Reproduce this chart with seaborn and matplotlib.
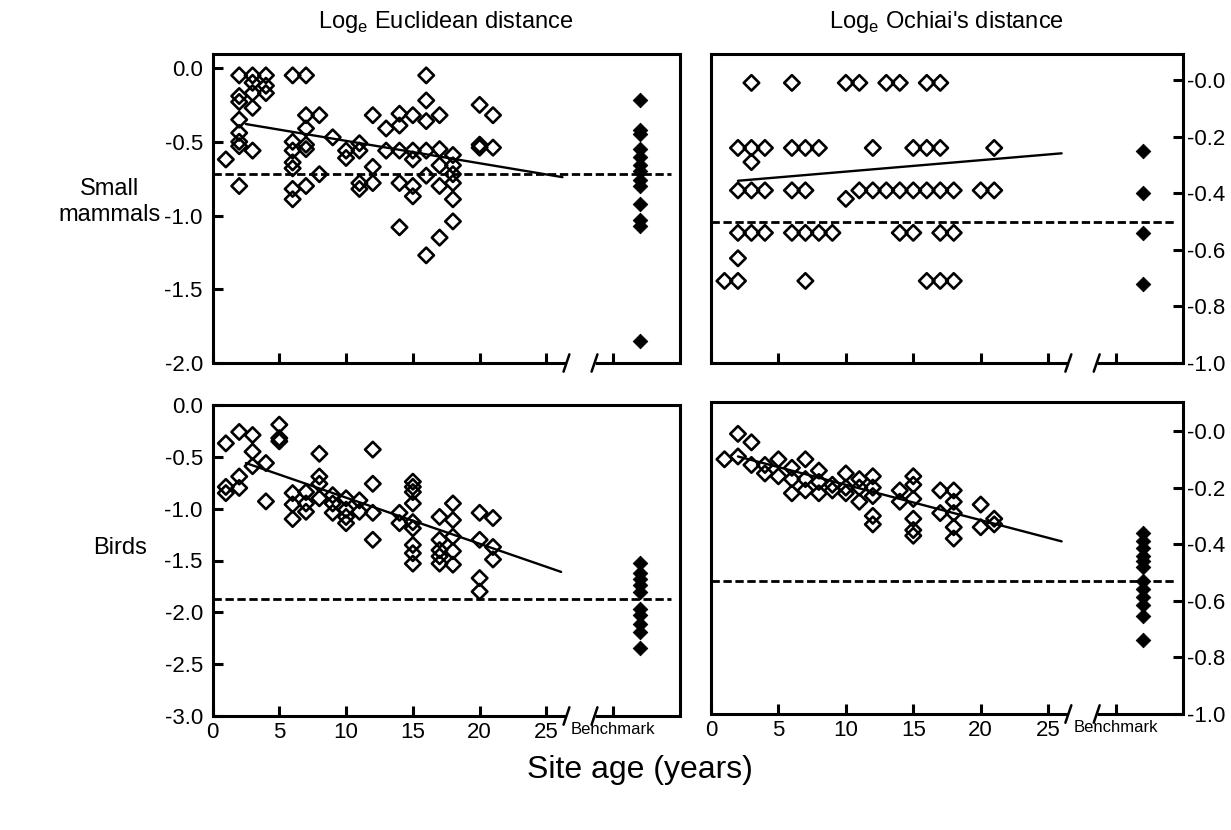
import matplotlib
matplotlib.use("Agg")
import matplotlib.pyplot as plt
import pandas as pd
import seaborn as sns

sns.set_theme(style="ticks")
plt.rcParams["font.family"] = ["Liberation Sans", "DejaVu Sans"]
plt.rcParams["axes.unicode_minus"] = False
for key in ("text.color", "axes.labelcolor", "xtick.color", "ytick.color",
            "axes.edgecolor"):
    plt.rcParams[key] = "black"

# ---------------- data ----------------
# Small mammals, log_e Euclidean distance
mam_euc_age = [1,
               2, 2, 2, 2, 2, 2, 2, 2,
               3, 3, 3, 3, 3,
               4, 4, 4,
               6, 6, 6, 6, 6, 6, 6,
               7, 7, 7, 7, 7, 7,
               8, 8, 9, 10, 10,
               11, 11, 11, 11,
               12, 12, 12, 13, 13,
               14, 14, 14, 14, 14,
               15, 15, 15, 15, 15,
               16, 16, 16, 16, 16, 16,
               17, 17, 17, 17, 17,
               18, 18, 18, 18, 18, 18,
               20, 20, 20, 21, 21]
mam_euc_val = [-0.62,
               -0.05, -0.19, -0.23, -0.35, -0.44, -0.50, -0.53, -0.80,
               -0.05, -0.10, -0.17, -0.27, -0.56,
               -0.05, -0.12, -0.17,
               -0.05, -0.50, -0.56, -0.64, -0.68, -0.82, -0.89,
               -0.05, -0.32, -0.41, -0.52, -0.55, -0.80,
               -0.32, -0.72, -0.47, -0.56, -0.61,
               -0.51, -0.56, -0.78, -0.82,
               -0.32, -0.67, -0.78, -0.41, -0.56,
               -0.31, -0.39, -0.56, -0.78, -1.08,
               -0.32, -0.56, -0.62, -0.80, -0.87,
               -0.05, -0.22, -0.36, -0.56, -0.73, -1.27,
               -0.32, -0.55, -0.66, -0.80, -1.15,
               -0.59, -0.66, -0.72, -0.78, -0.89, -1.04,
               -0.25, -0.52, -0.54, -0.32, -0.54]
mam_euc_bench = [-0.22, -0.42, -0.45, -0.55, -0.60, -0.66, -0.70,
                 -0.76, -0.80, -0.92, -1.03, -1.07, -1.85]
mam_euc_bench_mean = -0.72
mam_euc_fit_age = [2.5, 26.2]
mam_euc_fit_val = [-0.38, -0.74]

# Small mammals, log_e Ochiai's distance
mam_och_age = [3, 6, 10, 11, 13, 14, 16, 17,
               2, 3, 4, 6, 7, 8, 12, 15, 16, 17, 21,
               3,
               2, 3, 4, 6, 7, 11, 12, 13, 14, 15, 16, 17, 18, 20, 21,
               10,
               2, 3, 4, 6, 7, 8, 9, 14, 15, 17, 18,
               2,
               1, 2, 7, 16, 17, 18]
mam_och_val = [-0.01] * 8 + [-0.24] * 11 + [-0.29] + [-0.39] * 15 + [-0.42] \
              + [-0.54] * 11 + [-0.63] + [-0.71] * 6
mam_och_bench = [-0.25, -0.40, -0.54, -0.72]
mam_och_bench_mean = -0.50
mam_och_fit_age = [2.0, 26.0]
mam_och_fit_val = [-0.356, -0.259]

# Birds, log_e Euclidean distance
bird_euc_age = [1, 1, 1, 2, 2, 2, 3, 3, 3, 4, 4, 5, 5, 5,
                6, 6, 6, 7, 7, 7, 8, 8, 8, 8, 9, 9, 9,
                10, 10, 10, 10, 11, 11, 12, 12, 12, 12, 14, 14,
                15, 15, 15, 15, 15, 15, 15, 15, 15,
                17, 17, 17, 17, 17, 18, 18, 18, 18, 18,
                20, 20, 20, 20, 21, 21, 21]
bird_euc_val = [-0.37, -0.79, -0.85, -0.26, -0.69, -0.80, -0.29, -0.45, -0.59,
                -0.56, -0.93, -0.19, -0.32, -0.35,
                -0.85, -0.96, -1.10, -0.84, -0.95, -1.03,
                -0.47, -0.69, -0.76, -0.90, -0.87, -0.95, -1.04,
                -0.90, -1.01, -1.08, -1.14, -0.92, -1.03,
                -0.43, -0.76, -1.04, -1.30, -1.04, -1.14,
                -0.74, -0.79, -0.84, -0.95, -1.13, -1.19, -1.35, -1.43, -1.53,
                -1.08, -1.30, -1.40, -1.46, -1.53,
                -0.95, -1.11, -1.27, -1.41, -1.54,
                -1.04, -1.30, -1.67, -1.80, -1.09, -1.37, -1.49]
bird_euc_bench = [-1.52, -1.62, -1.68, -1.74, -1.80, -1.97, -2.03,
                  -2.11, -2.19, -2.34]
bird_euc_bench_mean = -1.87
bird_euc_fit_age = [2.5, 26.1]
bird_euc_fit_val = [-0.56, -1.61]

# Birds, log_e Ochiai's distance
bird_och_age = [1, 2, 2, 3, 3, 4, 4, 5, 5, 6, 6, 6, 7, 7, 7, 8, 8, 8,
                9, 9, 10, 10, 10, 11, 11, 11, 12, 12, 12, 12, 12, 14, 14,
                15, 15, 15, 15, 15, 15, 17, 17, 18, 18, 18, 18, 18,
                20, 20, 21, 21]
bird_och_val = [-0.10, -0.01, -0.09, -0.04, -0.12, -0.12, -0.15, -0.10, -0.16,
                -0.13, -0.17, -0.22, -0.10, -0.17, -0.21, -0.14, -0.18, -0.22,
                -0.19, -0.21, -0.15, -0.20, -0.22, -0.17, -0.20, -0.25,
                -0.16, -0.20, -0.23, -0.30, -0.33, -0.21, -0.25,
                -0.16, -0.19, -0.24, -0.31, -0.35, -0.37, -0.21, -0.29,
                -0.21, -0.25, -0.29, -0.34, -0.38, -0.26, -0.34, -0.31, -0.33]
bird_och_bench = [-0.36, -0.39, -0.415, -0.44, -0.46, -0.48, -0.53,
                  -0.56, -0.585, -0.615, -0.655, -0.74]
bird_och_bench_mean = -0.53
bird_och_fit_age = [2.0, 26.0]
bird_och_fit_val = [-0.09, -0.39]

# axis text
x_ticks = [0, 5, 10, 15, 20, 25, 30]
x_ticklabels = ["0", "5", "10", "15", "20", "25", "Benchmark"]
bench_pos = 32
euc_mam_ticks = [0.0, -0.5, -1.0, -1.5, -2.0]
euc_mam_labels = ["0.0", "-0.5", "-1.0", "-1.5", "-2.0"]
euc_bird_ticks = [0.0, -0.5, -1.0, -1.5, -2.0, -2.5, -3.0]
euc_bird_labels = ["0.0", "-0.5", "-1.0", "-1.5", "-2.0", "-2.5", "-3.0"]
och_ticks = [0.0, -0.2, -0.4, -0.6, -0.8, -1.0]
och_labels = ["-0.0", "-0.2", "-0.4", "-0.6", "-0.8", "-1.0"]

# ---------------- figure ----------------
W, H = 1231, 830
fig = plt.figure(figsize=(W / 100, H / 100), dpi=100)


def px_axes(left, top, right, bottom):
    return fig.add_axes([left / W, 1 - bottom / H, (right - left) / W, (bottom - top) / H])


LW = 2.2
TICK_FS = 16


def draw_panel(ax, age, val, bench, bench_mean, fit_age, fit_val,
               ylim, yticks, ylabels, right_side, xlabels):
    pts = pd.DataFrame({"age": age, "val": val})
    sns.scatterplot(data=pts, x="age", y="val", ax=ax, marker="D", s=62,
                    facecolor="none", edgecolor="black", linewidth=1.9,
                    zorder=3, legend=False)
    bpts = pd.DataFrame({"pos": [bench_pos] * len(bench), "val": bench})
    sns.scatterplot(data=bpts, x="pos", y="val", ax=ax, marker="D", s=55,
                    color="black", edgecolor="black", linewidth=0.6,
                    zorder=3, legend=False)
    sns.lineplot(x=fit_age, y=fit_val, ax=ax, color="black", lw=1.7,
                 zorder=2, legend=False)
    ax.hlines(bench_mean, 0, 34.3, colors="black", linestyles=(0, (3.0, 1.3)),
              lw=2.0, zorder=2)

    ax.set_xlim(0, 35)
    ax.set_ylim(*ylim)
    ax.set_xlabel("")
    ax.set_ylabel("")

    # frame with a broken bottom axis between the age scale and the benchmark
    for side in ("top", "left", "right"):
        ax.spines[side].set_linewidth(LW)
        ax.spines[side].set_color("black")
    ax.spines["bottom"].set_visible(False)
    xt = ax.get_xaxis_transform()
    ax.plot([0, 26.5], [0, 0], transform=xt, color="black", lw=LW,
            clip_on=False, solid_capstyle="butt")
    ax.plot([28.6, 35], [0, 0], transform=xt, color="black", lw=LW,
            clip_on=False, solid_capstyle="butt")
    for bx in (26.5, 28.6):
        ax.plot([bx - 0.22, bx + 0.22], [-0.028, 0.028], transform=xt,
                color="black", lw=1.8, clip_on=False)

    ax.set_xticks(x_ticks)
    if xlabels:
        ax.set_xticklabels(x_ticklabels)
    else:
        ax.set_xticklabels([])
    ax.set_yticks(yticks)
    ax.set_yticklabels(ylabels)
    if right_side:
        ax.yaxis.tick_right()
    ax.tick_params(axis="both", direction="in", length=7, width=LW,
                   colors="black", labelsize=TICK_FS)
    ax.tick_params(axis="x", pad=4)
    ax.tick_params(axis="y", pad=3 if right_side else 7)
    if xlabels:
        for lab in ax.get_xticklabels():
            if lab.get_text() == "Benchmark":
                lab.set_fontsize(12)
                lab.set_family(["Liberation Sans Narrow", "Liberation Sans"])
    ax.grid(False)


ax_tl = px_axes(212.5, 54, 680, 363)
ax_tr = px_axes(711, 54, 1183, 363)
ax_bl = px_axes(212.5, 405, 680, 716)
ax_br = px_axes(711, 402, 1183, 714)

draw_panel(ax_tl, mam_euc_age, mam_euc_val, mam_euc_bench, mam_euc_bench_mean,
           mam_euc_fit_age, mam_euc_fit_val, (-2.0, 0.095),
           euc_mam_ticks, euc_mam_labels, False, False)
draw_panel(ax_tr, mam_och_age, mam_och_val, mam_och_bench, mam_och_bench_mean,
           mam_och_fit_age, mam_och_fit_val, (-1.0, 0.092),
           och_ticks, och_labels, True, False)
draw_panel(ax_bl, bird_euc_age, bird_euc_val, bird_euc_bench, bird_euc_bench_mean,
           bird_euc_fit_age, bird_euc_fit_val, (-3.0, 0.0),
           euc_bird_ticks, euc_bird_labels, False, True)
draw_panel(ax_br, bird_och_age, bird_och_val, bird_och_bench, bird_och_bench_mean,
           bird_och_fit_age, bird_och_fit_val, (-1.0, 0.1025),
           och_ticks, och_labels, True, True)

fig.text(446 / W, 1 - 22 / H, r"Log$_\mathregular{e}$ Euclidean distance",
         ha="center", va="center", fontsize=17)
fig.text(946 / W, 1 - 22 / H, r"Log$_\mathregular{e}$ Ochiai's distance",
         ha="center", va="center", fontsize=17)
fig.text(110 / W, 1 - 202 / H, "Small\nmammals", ha="center", va="center",
         fontsize=17, linespacing=1.2)
fig.text(120 / W, 1 - 548 / H, "Birds", ha="center", va="center", fontsize=17)
fig.text(640 / W, 1 - 770 / H, "Site age (years)", ha="center", va="center",
         fontsize=23)

fig.savefig("out.png", dpi=100, facecolor="white")
